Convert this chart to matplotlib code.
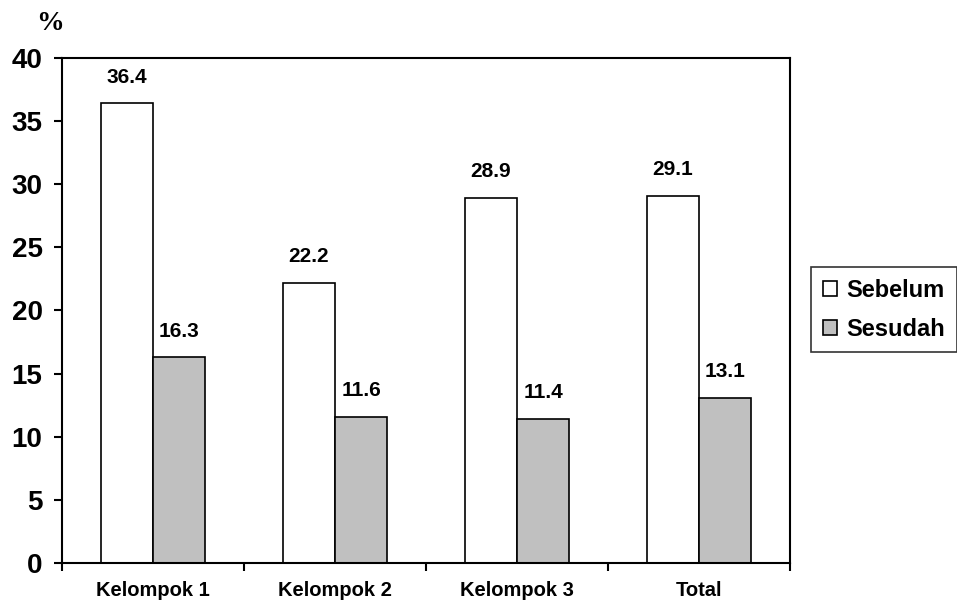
import matplotlib.pyplot as plt
import numpy as np

kelompok = ['Kelompok 1', 'Kelompok 2', 'Kelompok 3', 'Total']
sebelum = [36.4, 22.2, 28.9, 29.1]
sesudah = [16.3, 11.6, 11.4, 13.1]

plt.rcParams['font.family'] = ['Liberation Sans', 'DejaVu Sans']

fig = plt.figure(figsize=(9.57, 6.13), dpi=100)
ax = fig.add_axes([0.0648, 0.0816, 0.7607, 0.8238])

x = np.arange(len(kelompok))
lebar = 0.286

b1 = ax.bar(x - lebar / 2, sebelum, lebar, color='white', edgecolor='black',
            linewidth=1.2, label='Sebelum')
b2 = ax.bar(x + lebar / 2, sesudah, lebar, color='#c0c0c0', edgecolor='black',
            linewidth=1.2, label='Sesudah')

for bars, nilai in ((b1, sebelum), (b2, sesudah)):
    for b, v in zip(bars, nilai):
        ax.annotate(f'{v:.1f}', (b.get_x() + b.get_width() / 2, v),
                    xytext=(0, 12), textcoords='offset points',
                    ha='center', va='bottom', fontsize=15, fontweight='bold')

ax.set_xlim(-0.5, len(kelompok) - 0.5)
ax.set_ylim(0, 40)
ax.set_yticks(range(0, 41, 5))
ax.set_xticks(x)
ax.set_xticklabels(kelompok, fontsize=14.5, fontweight='bold')
ax.set_xticks(np.arange(-0.5, len(kelompok)), minor=True)
ax.tick_params(axis='x', which='major', length=0, pad=13)
ax.tick_params(axis='x', which='minor', length=6, width=1.5, direction='out')
ax.tick_params(axis='y', length=6, width=1.5, pad=8, labelsize=20)
for lbl in ax.get_yticklabels():
    lbl.set_fontweight('bold')

for s in ax.spines.values():
    s.set_linewidth(1.5)

fig.text(0.052, 0.961, '%', fontsize=20, fontweight='bold',
         family='Liberation Serif', ha='center', va='center')

leg = fig.legend(handles=[b1, b2], loc='center left',
                 bbox_to_anchor=(811 / 957, 0.495), borderaxespad=0,
                 frameon=True, fancybox=False, edgecolor='black',
                 handlelength=0.6, handleheight=0.6, handletextpad=0.4,
                 borderpad=0.5, labelspacing=0.68,
                 prop={'size': 17, 'weight': 'bold'})
leg.get_frame().set_linewidth(1.2)

fig.savefig('out.png', dpi=100)
